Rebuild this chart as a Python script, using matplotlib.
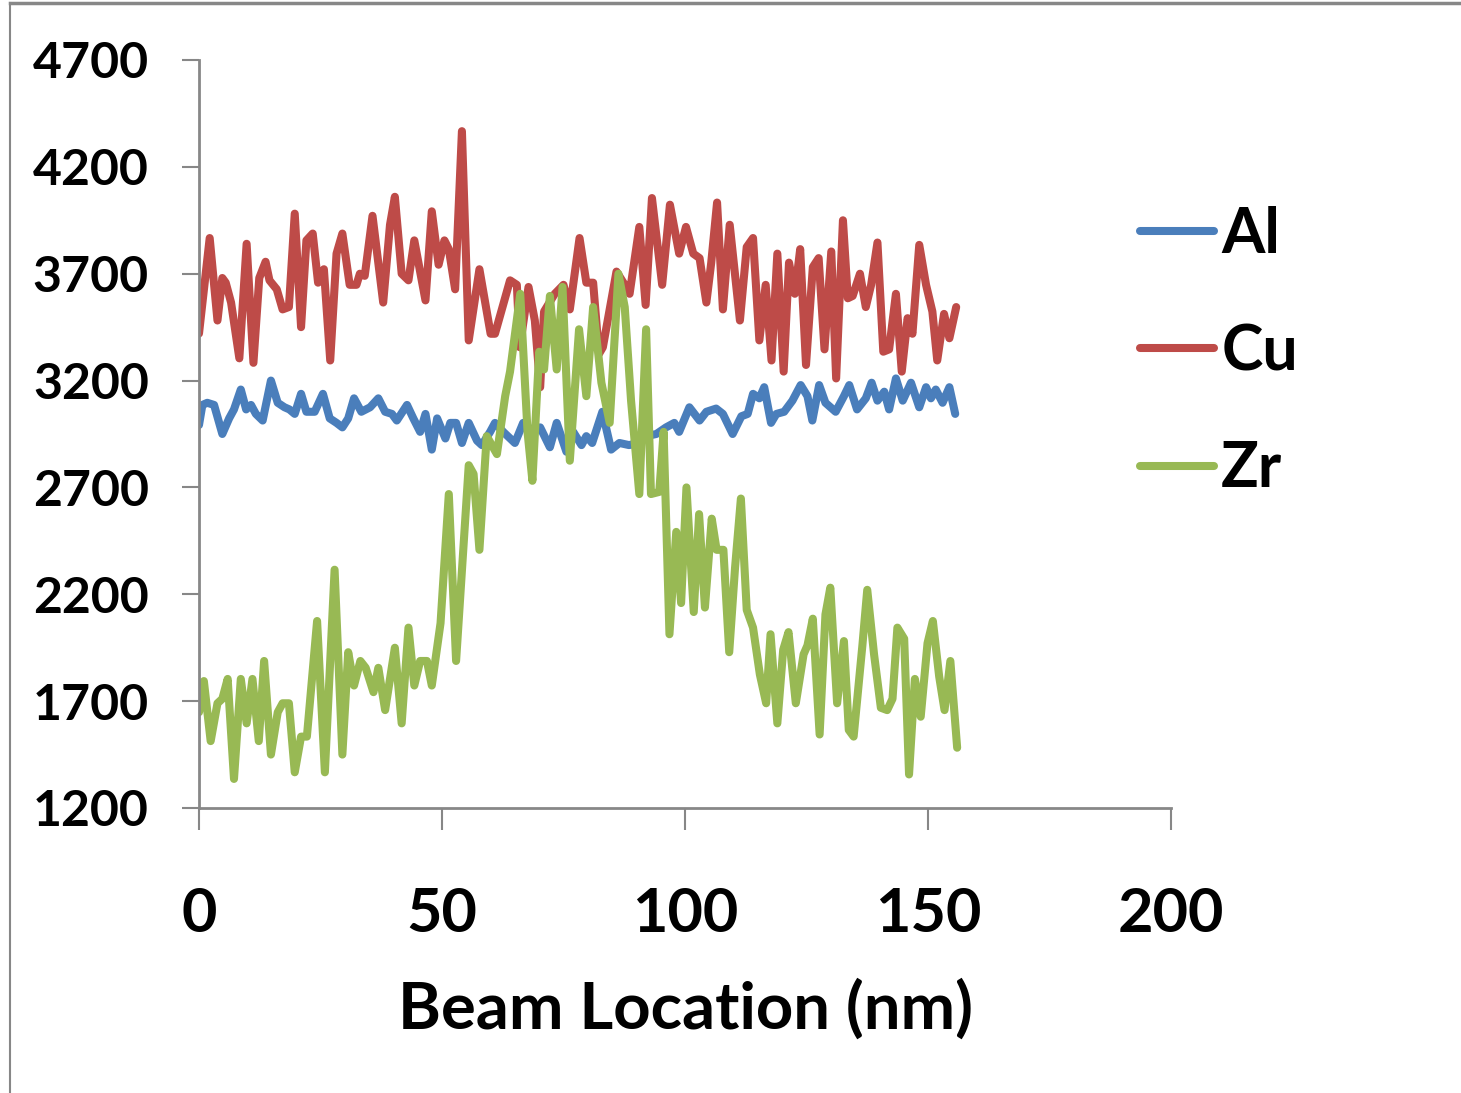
import matplotlib
matplotlib.use("Agg")
import matplotlib.pyplot as plt
from matplotlib.lines import Line2D

# beam location (nm) and counts
al_x = [0, 0.7, 1.7, 3.1, 4.8, 6.2, 7.2, 8.6, 9.7, 10.7,
        11.7, 13.1, 14.8, 16.2, 17.6, 18.6, 19.7, 21, 22.1, 23.8,
        25.5, 26.9, 28.3, 29.5, 30.7, 31.9, 33.4, 35.2, 36.9, 38.3,
        39.7, 40.7, 42.8, 44.1, 45.5, 46.6, 47.9, 49, 50.7, 51.7,
        52.9, 54.1, 55.5, 57.2, 58.2, 59.9, 60.9, 62.6, 65, 66.7,
        67.8, 68.8, 70.2, 72.2, 73.6, 75.6, 77, 78.7, 79.7, 80.9,
        83, 84.8, 86.5, 88.5, 90.3, 92, 94.1, 96.1, 97.8, 98.8,
        100.9, 103, 104.4, 106.4, 107.8, 109.8, 111.6, 112.9, 114, 115.3,
        116.3, 117.7, 118.8, 120.4, 122.1, 123.8, 125.2, 126.2, 127.6, 128.9,
        131, 132.7, 133.8, 135.4, 137.2, 138.4, 139.6, 141, 142, 143.4,
        144.8, 146.5, 148.2, 149.6, 150.6, 151.6, 153, 154.4, 155.6]
al_y = [2992, 3086, 3096, 3086, 2950, 3023, 3065, 3158, 3065, 3086,
        3044, 3013, 3200, 3096, 3075, 3065, 3044, 3138, 3054, 3054,
        3138, 3023, 3002, 2981, 3023, 3117, 3054, 3075, 3117, 3054,
        3044, 3013, 3086, 3023, 2960, 3044, 2877, 3023, 2929, 3002,
        3002, 2908, 3002, 2919, 2898, 2960, 3002, 2960, 2908, 3002,
        2981, 2960, 2981, 2888, 3002, 2867, 2960, 2898, 2940, 2908,
        3054, 2877, 2908, 2898, 2908, 2940, 2950, 2981, 3002, 2960,
        3075, 3013, 3054, 3069, 3044, 2950, 3033, 3044, 3138, 3117,
        3169, 3002, 3044, 3054, 3106, 3179, 3127, 3013, 3179, 3096,
        3054, 3127, 3179, 3065, 3117, 3190, 3106, 3148, 3065, 3210,
        3106, 3190, 3075, 3169, 3117, 3158, 3096, 3169, 3044]

cu_x = [0, 2.2, 3.8, 4.8, 5.5, 6.6, 8.3, 9.8, 11.2, 12.4,
        13.7, 14.5, 16, 17.2, 18.5, 19.7, 21, 22.1, 23.4, 24.5,
        25.7, 27, 28.3, 29.5, 31, 32.4, 33.1, 34.1, 35.7, 37.9,
        39.3, 40.3, 41.7, 43.1, 44.3, 46.6, 47.9, 49.3, 50.5, 51.4,
        52.7, 54.1, 55.5, 57.7, 60, 60.9, 64, 65.4, 66, 67.8,
        69.1, 70.2, 71, 73.2, 75, 76.3, 78.3, 79.7, 81.1, 82.3,
        83.1, 85.9, 87.6, 88.6, 90.6, 91.9, 93.2, 95.3, 96.9, 98.8,
        100.2, 101.7, 103, 104.4, 105.4, 106.6, 107.8, 109.2, 111.3, 112.7,
        114, 115.3, 116.6, 117.8, 119, 120.3, 121.4, 122.6, 123.7, 124.9,
        126.3, 127.5, 128.7, 130.1, 131.1, 132.5, 133.5, 134.5, 136, 137.2,
        138.3, 139.6, 140.8, 142, 143.4, 144.6, 145.8, 146.8, 148.2, 149.6,
        150.9, 151.9, 153.3, 154.4, 155.8]
cu_y = [3420, 3867, 3481, 3680, 3658, 3565, 3304, 3840, 3283, 3680,
        3756, 3669, 3627, 3533, 3544, 3981, 3450, 3856, 3888, 3658,
        3721, 3294, 3794, 3888, 3648, 3648, 3700, 3690, 3971, 3565,
        3929, 4060, 3700, 3669, 3856, 3575, 3992, 3742, 3856, 3815,
        3627, 4367, 3388, 3721, 3419, 3419, 3669, 3648, 3356, 3638,
        3481, 3169, 3523, 3606, 3648, 3533, 3867, 3658, 3658, 3325,
        3356, 3710, 3648, 3606, 3919, 3554, 4054, 3648, 4023, 3794,
        3919, 3794, 3773, 3565, 3752, 4033, 3533, 3929, 3481, 3825,
        3867, 3388, 3648, 3294, 3794, 3242, 3752, 3606, 3815, 3273,
        3731, 3773, 3346, 3804, 3210, 3950, 3585, 3596, 3700, 3544,
        3648, 3846, 3335, 3346, 3606, 3242, 3492, 3419, 3835, 3648,
        3523, 3294, 3512, 3398, 3544]

zr_x = [0, 1, 2.4, 3.8, 4.8, 5.9, 7.2, 8.6, 9.8, 11,
        12.3, 13.4, 14.8, 16.2, 17.2, 18.5, 19.7, 21, 22.2, 24.3,
        25.9, 27.9, 29.5, 30.7, 31.9, 33.2, 34.3, 35.9, 36.9, 38.3,
        40.3, 41.7, 43.1, 44.3, 45.5, 46.9, 47.9, 49.7, 51.4, 52.9,
        55.5, 56.5, 57.7, 59.2, 61.3, 63, 64, 66.1, 67.6, 68.6,
        70, 71, 72.2, 73.6, 74.8, 76.3, 78.2, 79.7, 81.1, 82.8,
        84.5, 86.3, 87.6, 88.9, 90.6, 92, 93, 94.7, 95.6, 96.8,
        98.2, 99.2, 100.3, 101.8, 102.9, 104.1, 105.5, 106.5, 107.9, 109.1,
        110.3, 111.5, 112.7, 114, 115.4, 116.7, 117.6, 119, 120.2, 121.3,
        122.8, 124.4, 125.2, 126.3, 127.7, 128.9, 129.9, 131.3, 132.7, 133.7,
        134.7, 136.5, 137.5, 138.9, 140.3, 141.6, 142.7, 143.7, 145.1, 146.1,
        147.3, 148.5, 149.9, 151, 152.3, 153.4, 154.6, 156]
zr_y = [1648, 1794, 1513, 1690, 1711, 1804, 1336, 1804, 1596, 1804,
        1513, 1888, 1450, 1648, 1690, 1690, 1367, 1534, 1534, 2075,
        1367, 2315, 1450, 1929, 1773, 1888, 1856, 1742, 1856, 1658,
        1950, 1596, 2044, 1773, 1888, 1888, 1773, 2065, 2669, 1888,
        2804, 2763, 2408, 2940, 2856, 3127, 3242, 3606, 2960, 2731,
        3335, 3252, 3596, 3252, 3638, 2825, 3440, 3127, 3544, 3190,
        3002, 3700, 3544, 3106, 2669, 3440, 2669, 2679, 2960, 2013,
        2492, 2159, 2700, 2117, 2575, 2138, 2554, 2408, 2408, 1929,
        2325, 2648, 2127, 2044, 1825, 1690, 2013, 1596, 1940, 2023,
        1690, 1919, 1961, 2086, 1544, 2106, 2231, 1690, 1981, 1565,
        1534, 1961, 2221, 1919, 1669, 1658, 1711, 2044, 1992, 1357,
        1804, 1627, 1971, 2075, 1815, 1658, 1888, 1482]

x_ticks = [0, 50, 100, 150, 200]
y_ticks = [1200, 1700, 2200, 2700, 3200, 3700, 4200, 4700]

plt.rcParams["font.family"] = ["Lato", "DejaVu Sans"]
plt.rcParams["font.weight"] = "bold"

W, H = 1461, 1093
fig = plt.figure(figsize=(W / 100, H / 100), dpi=100)
ax = fig.add_axes([199 / W, 1 - 808 / H, 972 / W, 748 / H])

lw = 5.8
style = dict(lw=lw, solid_joinstyle="round", solid_capstyle="round")
ax.plot(al_x, al_y, color="#4A7EBB", label="Al", **style)
ax.plot(cu_x, cu_y, color="#BE4B48", label="Cu", **style)
ax.plot(zr_x, zr_y, color="#98B954", label="Zr", **style)

ax.set_xlim(0, 200)
ax.set_ylim(1200, 4700)
ax.set_xticks(x_ticks)
ax.set_yticks(y_ticks)

grey = "#878787"
for side in ("top", "right"):
    ax.spines[side].set_visible(False)
for side in ("left", "bottom"):
    ax.spines[side].set_color(grey)
    ax.spines[side].set_linewidth(2.0)

ax.tick_params(axis="x", direction="out", length=16, width=1.5, color=grey,
               labelsize=44, pad=40)
ax.tick_params(axis="y", direction="out", length=12, width=1.5, color=grey,
               labelsize=36, pad=24)
for t in ax.get_xticklabels() + ax.get_yticklabels():
    t.set_fontweight("bold")

ax.set_xlabel("Beam Location (nm)", fontsize=47, fontweight="bold", labelpad=26)

fig.legend(loc="center left", bbox_to_anchor=(1140 / W, 1 - 352 / H),
           frameon=False, handlelength=1.18, handletextpad=0.12,
           labelspacing=0.95, borderpad=0, borderaxespad=0,
           prop={"weight": "bold", "size": 45})

# chart-area border (top and left edges visible)
fig.add_artist(Line2D([10 / W, 1], [1 - 3 / H, 1 - 3 / H], transform=fig.transFigure,
                      color=grey, lw=2.5))
fig.add_artist(Line2D([10 / W, 10 / W], [0, 1 - 3 / H], transform=fig.transFigure,
                      color=grey, lw=1.5))

fig.savefig("out.png", dpi=100)
